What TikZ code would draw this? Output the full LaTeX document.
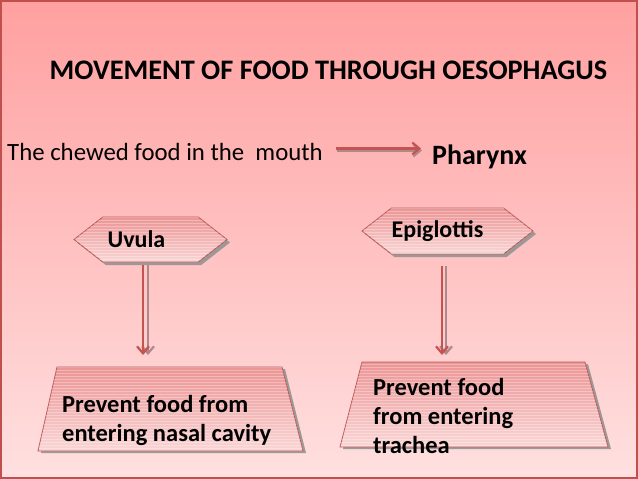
\documentclass[tikz,border=0pt]{standalone}
\usepackage{fontspec}
\setmainfont{Carlito}
\usetikzlibrary{shapes.symbols,arrows.meta,positioning,shadows,patterns}

\definecolor{slidetop}{RGB}{255,160,160}
\definecolor{slidebot}{RGB}{255,224,224}
\definecolor{frame}{RGB}{192,80,77}
\definecolor{arrowred}{RGB}{196,84,82}
\definecolor{arrowgray}{RGB}{172,138,138}
\definecolor{boxtop}{RGB}{236,148,148}
\definecolor{boxbot}{RGB}{250,214,214}
\definecolor{boxline}{RGB}{188,88,86}

\begin{document}
\begin{tikzpicture}[x=1pt, y=1pt,
    heading/.style={font=\fontsize{28.3}{32}\selectfont\bfseries, inner sep=0pt},
    plaintext/.style={font=\fontsize{24.8}{29}\selectfont, inner sep=0pt},
    boldtext/.style={font=\fontsize{28}{32}\selectfont\bfseries, inner sep=0pt},
    striped/.style={postaction={pattern=horizontal lines, pattern color=white, opacity=0.3}},
    hexbox/.style={signal, signal to=east and west, signal pointer angle=76, draw=boxline, line width=0.8pt,
        top color=boxtop, bottom color=boxbot, inner sep=0pt, font=\fontsize{24}{29}\selectfont\bfseries,
        drop shadow={shadow xshift=3pt, shadow yshift=-3pt, fill=gray!85, opacity=0.9}, striped},
    trapbox/.style={draw=boxline, line width=0.8pt, top color=boxtop, bottom color=boxbot,
        drop shadow={shadow xshift=3pt, shadow yshift=-2pt, fill=gray!85, opacity=0.9}, striped},
    boxtext/.style={font=\fontsize{24.5}{29}\selectfont\bfseries, align=left, inner sep=0pt},
    arrow/.style={-{Straight Barb[length=7pt, width=12pt]}, line width=2.2pt, arrowred},
    grayarrow/.style={arrow, arrowgray}
]
% slide background
\shade[top color=slidetop, bottom color=slidebot] (0,0) rectangle (638,-479);
\draw[frame, line width=2pt] (1,-1) rectangle (637,-478);

\node[heading, anchor=base] (title) at (328.5,-79) {MOVEMENT OF FOOD THROUGH OESOPHAGUS};
\node[plaintext, anchor=base west] (mouth) at (7,-160) {The chewed food in the\ \ mouth};
\node[boldtext, anchor=base west] (pharynx) at (432,-164) {Pharynx};

\node[hexbox, minimum width=153pt, minimum height=45pt] (uvula) at (150.5,-239.5) {Uvula\hspace*{28pt}};
\node[hexbox, minimum width=171pt, minimum height=46pt] (epiglottis) at (447.5,-231) {Epiglottis\hspace*{20pt}};

% trapezium boxes (top edge midpoints named)
\draw[trapbox] (57,-367) -- (282,-367) -- (303,-451) -- (38,-451) -- cycle;
\coordinate (nasal) at (170,-367);
\draw[trapbox] (362,-362) -- (585,-362) -- (608,-447) -- (340,-447) -- cycle;
\coordinate (trachea) at (474,-362);
\node[boxtext, anchor=base west] (nasaltext) at (62,-441) {Prevent food from\\entering nasal cavity};
\node[boxtext, anchor=base west] (tracheatext) at (373,-453) {Prevent food\\from entering\\trachea};

% arrows
\draw[grayarrow, shorten <=14pt, shorten >=10pt] ([yshift=1pt]mouth.east) -- ([yshift=1pt]mouth.east -| pharynx.west);
\draw[arrow, shorten <=13pt, shorten >=11pt] ([yshift=3pt]mouth.east) -- ([yshift=3pt]mouth.east -| pharynx.west);

\draw[grayarrow, shorten <=3pt, shorten >=12pt] ([xshift=-2.5pt]uvula.south) -- ([xshift=-2.5pt]uvula.south |- nasal);
\draw[arrow, shorten <=3pt, shorten >=12pt] ([xshift=-7.5pt]uvula.south) -- ([xshift=-7.5pt]uvula.south |- nasal);
\draw[grayarrow, shorten <=12pt, shorten >=7pt] ([xshift=-1.5pt]epiglottis.south) -- ([xshift=-1.5pt]epiglottis.south |- trachea);
\draw[arrow, shorten <=12pt, shorten >=7pt] ([xshift=-5.5pt]epiglottis.south) -- ([xshift=-5.5pt]epiglottis.south |- trachea);
\end{tikzpicture}
\end{document}
